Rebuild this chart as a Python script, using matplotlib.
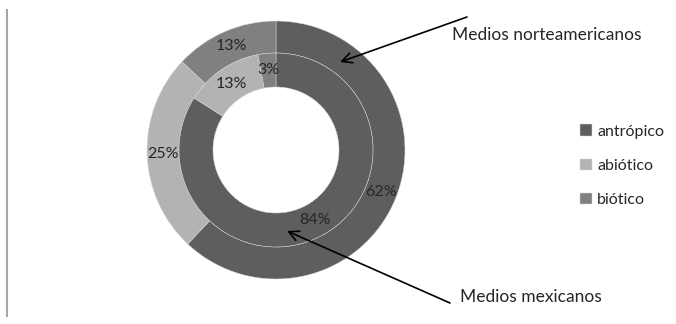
import matplotlib.pyplot as plt

plt.rcParams['font.family'] = ['Lato', 'DejaVu Sans']

categories = ['antrópico', 'abiótico', 'biótico']
norteamericanos = [62, 25, 13]
mexicanos = [84, 13, 3]
colors = ['#5e5e5e', '#b3b3b3', '#808080']

W, H = 676, 324
fig = plt.figure(figsize=(W / 100, H / 100), dpi=100)
ax = fig.add_axes([0, 0, 1, 1])

cx, cy = 276, H - 150
r_out, r_in = 129, 97

wp = dict(edgecolor='#d9d9d9', linewidth=0.35)
lbl = dict(fontsize=11.5, color='#262626')
outer, _, _ = ax.pie(norteamericanos, colors=colors, radius=r_out, center=(cx, cy),
                     startangle=90, counterclock=False, frame=True,
                     wedgeprops=dict(width=r_out - r_in, **wp),
                     autopct='%d%%', pctdistance=0.875, textprops=lbl)
inner, _, _ = ax.pie(mexicanos, colors=colors, radius=r_in, center=(cx, cy),
                     startangle=90, counterclock=False, frame=True,
                     wedgeprops=dict(width=34, **wp),
                     autopct='%d%%', pctdistance=0.825, textprops=lbl)

ax.set_xlim(0, W)
ax.set_ylim(0, H)
ax.set_aspect('equal')
ax.axis('off')

# left border line
ax.plot([6.5, 6.5], [H - 10, H - 316], color='#a6a6a6', lw=1.5)

arrow = dict(arrowstyle='->', color='black', lw=1.2, mutation_scale=18,
             shrinkA=0, shrinkB=0)

ax.text(452, H - 35, 'Medios norteamericanos', fontsize=12.5, color='#262626',
        va='center', ha='left')
ax.annotate('', xy=(340, H - 62), xytext=(467, H - 17), arrowprops=arrow)

ax.text(460, H - 297, 'Medios mexicanos', fontsize=12.5, color='#262626',
        va='center', ha='left')
ax.annotate('', xy=(287, H - 231), xytext=(450, H - 303), arrowprops=arrow)

ax.legend(outer, categories, loc='upper left', bbox_to_anchor=(566 / W, 1 - 110 / H),
          frameon=False, fontsize=11.5, handlelength=0.7, handleheight=0.7,
          handletextpad=0.35, labelspacing=1.25, labelcolor='#262626')

fig.savefig('out.png', dpi=100)
